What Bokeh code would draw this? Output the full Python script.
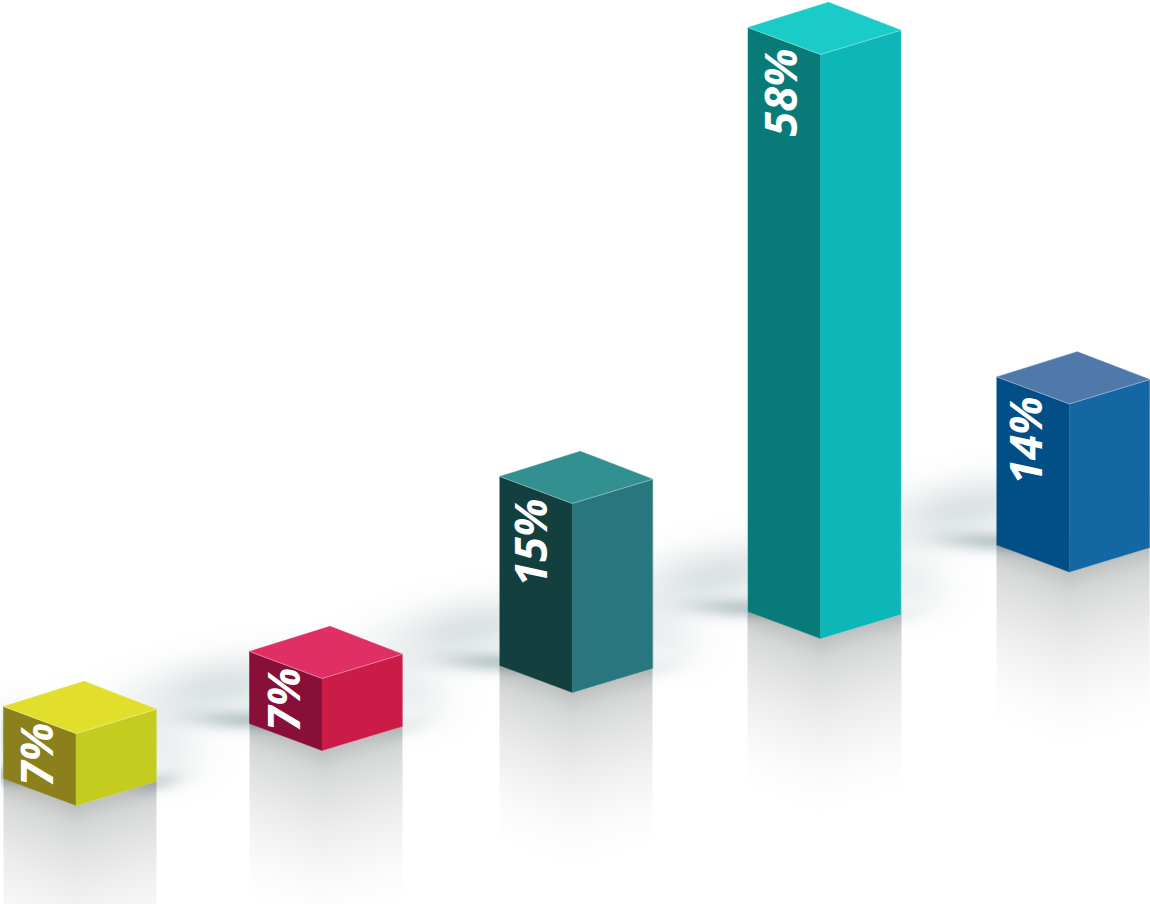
import numpy as np
from bokeh.core.properties import value
from bokeh.embed import file_html
from bokeh.models import Range1d
from bokeh.plotting import figure
from bokeh.resources import INLINE

# Chart values, left to right
shares = [7, 7, 15, 58, 14]
labels = [f"{s}%" for s in shares]

# Face colours for each column
top_colors = ["#E1DF2C", "#DF2F64", "#329090", "#19CCC7", "#5079AB"]
left_colors = ["#8B801B", "#870F38", "#143F3F", "#087A78", "#024F88"]
right_colors = ["#C3CC1F", "#CB1C48", "#29767E", "#0DB6B7", "#1368A3"]

# Height scale of the drawing: share in percent to column height in pixels
scale_shares = [7, 14, 15, 58]
scale_heights = [72, 168, 189, 584]

# Scene layout: where the nearest bottom corner of each column stands
front_x = [75.5, 321.5, 571.8, 820.0, 1068.8]
front_y = [805.0, 750.0, 692.0, 638.0, 571.4]
label_x = [35, 282, 529, 779, 1024]
label_y = [754, 699, 542, 92, 440]
corner_shadow = [0.28, 0.12, 0.1, 0.08, 0.0]

# Plan-view edge vectors of the isometric box
LEFT = np.array([-72.5, -27.0])
RIGHT = np.array([80.5, -24.3])
BACK_RISE = 25.2

W, H = 1150, 904
SHADOW = np.array([110, 138, 142]) / 255
GREY = np.array([122, 126, 126]) / 255

p = figure(width=W, height=H, output_backend="svg", toolbar_location=None,
           x_range=Range1d(0, W), y_range=Range1d(H, 0),
           x_axis_type=None, y_axis_type=None, min_border=0,
           outline_line_color=None, background_fill_color="white",
           border_fill_color="white")
p.grid.visible = False

# Floor shading is composed into one smooth raster beneath the columns
px, py = np.meshgrid(np.arange(W) + 0.5, np.arange(H) + 0.5)
floor = np.ones((H, W, 3))


def tint(alpha, color):
    global floor
    floor = floor * (1 - alpha[..., None] * (1 - color))


def soft_blob(cx, cy, sx, sy, tilt, peak):
    c, s = np.cos(tilt), np.sin(tilt)
    u = (px - cx) * c + (py - cy) * s
    v = -(px - cx) * s + (py - cy) * c
    tint(peak * np.exp(-0.5 * ((u / sx) ** 2 + (v / sy) ** 2)), SHADOW)


for fx, fy, corner in zip(front_x, front_y, corner_shadow):
    bx, by = fx + LEFT[0], fy + LEFT[1]
    rx, ry = fx + RIGHT[0], fy + RIGHT[1]
    # Cast shadows behind and beside the column
    soft_blob(bx + 2, by - 3, 40, 7, 0.03, 0.42)
    soft_blob(bx - 32, by - 36, 58, 20, -0.18, 0.24)
    soft_blob(rx, ry + 1, 18, 7, -0.2, corner)
    soft_blob(rx + 4, ry - 34, 30, 20, 0.3, 0.13)

    # Reflection under both lower edges
    inside = (px >= bx) & (px <= rx)
    edge_y = np.where(px < fx, fy + (px - fx) * LEFT[1] / LEFT[0],
                      fy + (px - fx) * RIGHT[1] / RIGHT[0])
    d = np.clip(py - edge_y, 0, None)
    under = inside & (py >= edge_y)
    fade = 0.38 * np.clip(1 - d / 185, 0, 1) ** 1.7 + 0.1 * np.clip(1 - d / 24, 0, 1) ** 1.2
    tint(np.where(under, fade, 0.0), GREY)

rgba = np.zeros((H, W), dtype=np.uint32)
view = rgba.view(np.uint8).reshape(H, W, 4)
view[..., :3] = np.round(floor * 255).astype(np.uint8)
view[..., 3] = 255
p.image_rgba(image=[rgba], x=0, y=0, dw=W, dh=H)

# Columns
for i, share in enumerate(shares):
    h = float(np.interp(share, scale_shares, scale_heights))
    fx, fy = front_x[i], front_y[i]
    lx, ly = fx + LEFT[0], fy + LEFT[1]
    rx, ry = fx + RIGHT[0], fy + RIGHT[1]
    bx, by = lx + RIGHT[0], ly - BACK_RISE

    p.patch([lx, fx, fx, lx], [ly, fy, fy - h, ly - h], fill_color=left_colors[i],
            line_color=left_colors[i], line_width=0.5)
    p.patch([fx, rx, rx, fx], [fy, ry, ry - h, fy - h], fill_color=right_colors[i],
            line_color=right_colors[i], line_width=0.5)
    p.patch([lx, fx, rx, bx], [ly - h, fy - h, ry - h, by - h], fill_color=top_colors[i],
            line_color=top_colors[i], line_width=0.5)
    # Pale highlight where the lid meets the sides
    p.line([lx, fx, rx], [ly - h, fy - h, ry - h], line_color="white",
           line_alpha=0.45, line_width=0.8)
    p.line([rx, rx], [ry - h, ry], line_color="white", line_alpha=0.25, line_width=0.8)

# Percent labels running up the dark faces
p.text(x=label_x, y=label_y, text=labels, angle=np.pi / 2, text_color="white",
       text_font=value("Open Sans"), text_font_style="bold italic",
       text_font_size="45px", text_align="center", text_baseline="middle")

open("out.html", "w").write(file_html(p, INLINE))
